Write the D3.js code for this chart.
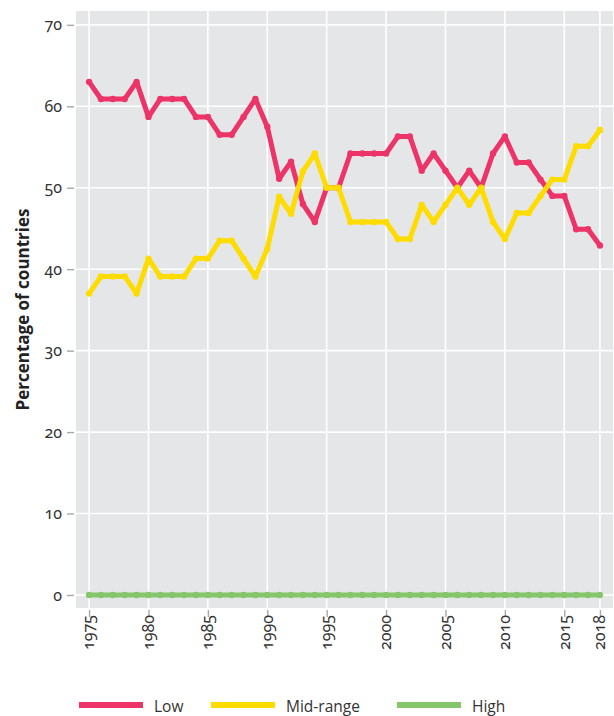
<!DOCTYPE html>
<html>
<head>
<meta charset="utf-8">
<script src="https://cdn.jsdelivr.net/npm/d3@7"></script>
<style>
  html, body { margin: 0; padding: 0; background: #fff; }
  svg { display: block; font-family: "Open Sans", "Noto Sans", sans-serif; }
  .tick text { font-family: "Noto Sans", sans-serif; font-variant-numeric: oldstyle-nums; font-feature-settings: "onum" 1; }
</style>
</head>
<body>
<svg id="chart" width="614" height="716"></svg>
<script>
// Share of countries in each category, per year (%)
const years = d3.range(1975, 2019);
const lowValues = [
  63.0, 60.9, 60.9, 60.9, 63.0, 58.7, 60.9, 60.9, 60.9, 58.7,
  58.7, 56.5, 56.5, 58.7, 60.9, 57.5, 51.1, 53.2, 48.0, 45.8,
  50.0, 50.0, 54.2, 54.2, 54.2, 54.2, 56.3, 56.3, 52.1, 54.2,
  52.1, 50.0, 52.1, 50.0, 54.2, 56.3, 53.1, 53.1, 51.0, 49.0,
  49.0, 44.9, 44.9, 42.9
];
const midValues = [
  37.0, 39.1, 39.1, 39.1, 37.0, 41.3, 39.1, 39.1, 39.1, 41.3,
  41.3, 43.5, 43.5, 41.3, 39.1, 42.5, 48.9, 46.8, 52.0, 54.2,
  50.0, 50.0, 45.8, 45.8, 45.8, 45.8, 43.7, 43.7, 47.9, 45.8,
  47.9, 50.0, 47.9, 50.0, 45.8, 43.7, 46.9, 46.9, 49.0, 51.0,
  51.0, 55.1, 55.1, 57.1
];
const highValues = years.map(() => 0);

const seriesNames = ["Low", "Mid-range", "High"];
const seriesColors = ["#ec3468", "#ffdc00", "#86c66b"];
const yTicks = [0, 10, 20, 30, 40, 50, 60, 70];
const xTicks = [1975, 1980, 1985, 1990, 1995, 2000, 2005, 2010, 2015, 2018];

const svg = d3.select("#chart");
const panel = { left: 76, right: 613, top: 11, bottom: 608 };

const x = d3.scaleLinear().domain([1973.9, 2019.1]).range([panel.left, panel.right]);
const y = d3.scaleLinear().domain([-1.6, 71.7]).range([panel.bottom, panel.top]);

// panel background
svg.append("rect")
  .attr("x", panel.left).attr("y", panel.top)
  .attr("width", panel.right - panel.left).attr("height", panel.bottom - panel.top)
  .attr("fill", "#e5e6e8");

// grid lines
svg.append("g").selectAll("line").data(yTicks).join("line")
  .attr("x1", panel.left).attr("x2", panel.right)
  .attr("y1", d => y(d)).attr("y2", d => y(d))
  .attr("stroke", "#fff").attr("stroke-width", 1.6);
svg.append("g").selectAll("line").data(xTicks).join("line")
  .attr("y1", panel.top).attr("y2", panel.bottom)
  .attr("x1", d => x(d)).attr("x2", d => x(d))
  .attr("stroke", "#fff").attr("stroke-width", 1.6);

// axes
const yAxis = svg.append("g")
  .attr("transform", `translate(${panel.left - 2},0)`)
  .call(d3.axisLeft(y).tickValues(yTicks).tickSize(7).tickPadding(5).tickFormat(d3.format("d")));
const xAxis = svg.append("g")
  .attr("transform", `translate(0,${panel.bottom + 2})`)
  .call(d3.axisBottom(x).tickValues(xTicks).tickSize(7).tickFormat(d3.format("d")));
[yAxis, xAxis].forEach(g => {
  g.select(".domain").remove();
  g.selectAll(".tick line").attr("stroke", "#a8a8a8").attr("stroke-width", 1.4);
  g.selectAll(".tick text").attr("fill", "#333").attr("font-size", 16);
});
xAxis.selectAll(".tick text")
  .attr("transform", "rotate(-90)")
  .attr("text-anchor", "end")
  .attr("x", -5).attr("y", 0).attr("dy", "0.3em");

// y-axis title
svg.append("text")
  .attr("transform", `translate(29,${(panel.top + panel.bottom) / 2}) rotate(-90)`)
  .attr("text-anchor", "middle")
  .attr("font-size", 17).attr("font-weight", 700).attr("fill", "#222")
  .text("Percentage of countries");

// series lines and points
const series = [lowValues, midValues, highValues];
const line = d3.line().x((d, i) => x(years[i])).y(d => y(d));
series.forEach((vals, k) => {
  const g = svg.append("g");
  g.append("path").datum(vals)
    .attr("d", line)
    .attr("fill", "none")
    .attr("stroke", seriesColors[k])
    .attr("stroke-width", 5)
    .attr("stroke-linejoin", "round");
  g.selectAll("circle").data(vals).join("circle")
    .attr("cx", (d, i) => x(years[i])).attr("cy", d => y(d))
    .attr("r", 3.2).attr("fill", seriesColors[k]);
});

// legend
const legendX = [79, 211, 397];
const leg = svg.append("g");
seriesNames.forEach((name, k) => {
  leg.append("line")
    .attr("x1", legendX[k]).attr("x2", legendX[k] + 64)
    .attr("y1", 705).attr("y2", 705)
    .attr("stroke", seriesColors[k]).attr("stroke-width", 6);
  leg.append("text")
    .attr("x", legendX[k] + 75).attr("y", 712)
    .attr("font-size", 15.5).attr("fill", "#333")
    .text(name);
});
</script>
</body>
</html>
